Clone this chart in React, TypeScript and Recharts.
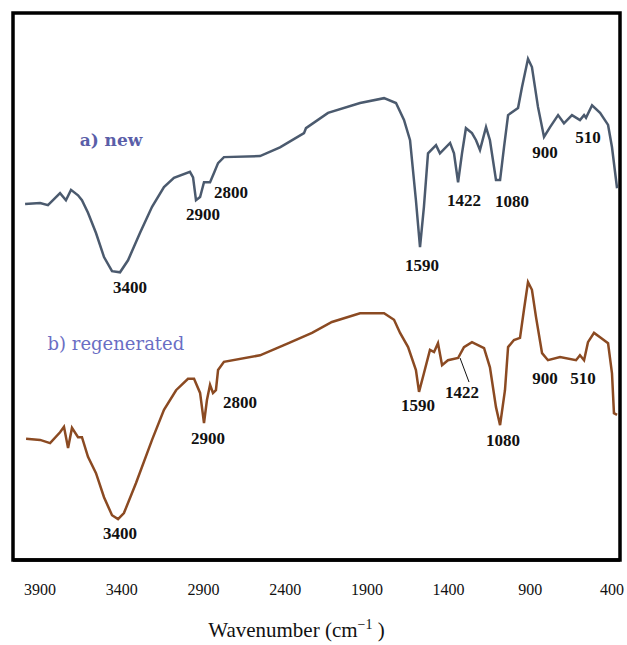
import React from 'react';
import { LineChart, Line, XAxis, YAxis, ReferenceDot, ReferenceLine, ReferenceArea, Label } from 'recharts';

// wavenumber (cm-1) and transmittance (a.u.)
const wavenumberA = [3992, 3900, 3852, 3778, 3742, 3711, 3668, 3644, 3607, 3558, 3509, 3460, 3411, 3362, 3289, 3215, 3142, 3081, 2983, 2964, 2946, 2921, 2897, 2860, 2836, 2811, 2775, 2554, 2432, 2285, 2273, 2138, 1942, 1795, 1722, 1673, 1636, 1600, 1575, 1551, 1526, 1477, 1453, 1391, 1367, 1342, 1318, 1294, 1257, 1232, 1208, 1171, 1147, 1110, 1085, 1061, 1036, 975, 951, 914, 890, 853, 816, 779, 730, 694, 645, 596, 571, 559, 522, 473, 424, 400, 369];
const transA = [65.2, 65.4, 65.0, 67.2, 65.9, 67.8, 66.8, 65.9, 63.6, 59.9, 55.5, 52.9, 52.7, 54.9, 59.9, 64.7, 68.3, 70.0, 71.1, 70.1, 65.9, 66.5, 69.2, 69.2, 70.9, 72.7, 73.8, 74.0, 75.6, 78.2, 79.1, 81.9, 83.7, 84.6, 83.7, 80.6, 76.9, 65.9, 57.3, 64.7, 74.5, 76.0, 74.5, 76.4, 74.5, 69.2, 74.5, 79.1, 78.2, 76.9, 75.1, 79.3, 76.9, 69.6, 69.6, 75.6, 81.5, 82.8, 86.6, 91.8, 90.3, 83.0, 77.5, 79.3, 81.5, 80.0, 81.5, 80.6, 81.5, 81.0, 83.3, 81.9, 79.7, 75.6, 68.1];

const wavenumberB = [3986, 3900, 3839, 3778, 3754, 3729, 3705, 3668, 3644, 3607, 3558, 3509, 3460, 3423, 3387, 3313, 3215, 3142, 3068, 2995, 2958, 2921, 2897, 2879, 2860, 2842, 2824, 2811, 2775, 2554, 2383, 2236, 2114, 1942, 1795, 1734, 1697, 1648, 1600, 1581, 1551, 1514, 1489, 1465, 1440, 1404, 1342, 1306, 1257, 1183, 1147, 1110, 1085, 1055, 1036, 1000, 963, 939, 914, 890, 865, 828, 792, 718, 620, 596, 571, 547, 510, 473, 424, 400, 388, 369];
const transB = [22.2, 22.0, 21.4, 23.4, 24.4, 20.5, 24.2, 22.5, 22.5, 18.9, 15.9, 11.5, 8.2, 7.5, 8.6, 14.1, 22.0, 27.5, 31.1, 33.2, 33.2, 30.6, 25.1, 29.3, 32.1, 30.6, 31.1, 34.8, 36.3, 37.5, 39.7, 41.6, 43.6, 45.2, 45.2, 44.0, 41.6, 39.0, 34.8, 30.8, 34.2, 38.5, 38.1, 39.7, 35.7, 36.6, 37.0, 39.0, 39.9, 38.8, 35.3, 28.0, 24.7, 31.1, 39.0, 40.3, 40.7, 45.8, 50.9, 49.5, 44.5, 37.9, 36.6, 37.2, 36.6, 37.5, 36.6, 39.9, 41.6, 40.8, 39.7, 34.2, 26.9, 26.6];

const xTicks = [3900, 3400, 2900, 2400, 1900, 1400, 900, 400];

// peak annotations (anchor in data units)
const peakLabelsA = [
  { w: 3350, t: 50.0, text: '3400' },
  { w: 2903, t: 63.4, text: '2900' },
  { w: 2732, t: 67.4, text: '2800' },
  { w: 1563, t: 54.0, text: '1590' },
  { w: 1306, t: 65.9, text: '1422' },
  { w: 1012, t: 65.8, text: '1080' },
  { w: 810, t: 74.7, text: '900' },
  { w: 547, t: 77.5, text: '510' },
];
const peakLabelsB = [
  { w: 3411, t: 4.9, text: '3400' },
  { w: 2872, t: 22.3, text: '2900' },
  { w: 2677, t: 28.9, text: '2800' },
  { w: 1587, t: 28.4, text: '1590' },
  { w: 1318, t: 30.8, text: '1422' },
  { w: 1067, t: 22.0, text: '1080' },
  { w: 810, t: 33.3, text: '900' },
  { w: 577, t: 33.3, text: '510' },
];
const leader1422 = [{ x: 1330, y: 37.0 }, { x: 1275, y: 32.6 }];

const dataA = wavenumberA.map((w, i) => ({ w, t: transA[i] }));
const dataB = wavenumberB.map((w, i) => ({ w, t: transB[i] }));

const X_DOMAIN: [number, number] = [351, 4066];
const Y_DOMAIN: [number, number] = [0, 100.2];
const SERIF = "'Liberation Serif', 'Times New Roman', Times, serif";

const renderTitle = (props: any) => {
  const { viewBox } = props;
  const cx = viewBox.x + viewBox.width / 2 - 20;
  const y = viewBox.y + 77;
  return (
    <text x={cx} y={y} textAnchor="middle" fontFamily={SERIF} fontSize={21} fill="#111">
      Wavenumber (cm
      <tspan fontSize={14} dy={-8}>−1</tspan>
      <tspan dy={8}> )</tspan>
    </text>
  );
};

const peakLabel = (text: string) => ({
  value: text,
  position: 'center' as const,
  fill: '#111',
  fontSize: 17,
  fontWeight: 'bold',
  fontFamily: SERIF,
});

const App: React.FC = () => {
  return (
    <div style={{ position: 'absolute', left: 0, top: 0, fontFamily: SERIF }}>
      <LineChart width={627} height={645} margin={{ top: 13, right: 7, left: 13, bottom: 0 }} style={{ fontFamily: SERIF }}>
        <XAxis
          type="number"
          dataKey="w"
          domain={X_DOMAIN}
          reversed
          allowDataOverflow
          ticks={xTicks}
          interval={0}
          tickLine={false}
          tickSize={8}
          tickMargin={16}
          height={85}
          axisLine={{ stroke: '#000', strokeWidth: 3.5 }}
          tick={{ fill: '#111', fontSize: 16, fontFamily: SERIF }}
          label={<Label content={renderTitle} />}
        />
        <YAxis type="number" domain={Y_DOMAIN} allowDataOverflow hide />

        {/* plot frame */}
        <ReferenceArea
          x1={X_DOMAIN[0]}
          x2={X_DOMAIN[1]}
          y1={Y_DOMAIN[0]}
          y2={Y_DOMAIN[1]}
          fill="none"
          stroke="#000"
          strokeWidth={3.5}
          ifOverflow="visible"
        />

        <Line data={dataA} dataKey="t" type="linear" dot={false} stroke="#4b5a6e" strokeWidth={2.5} isAnimationActive={false} />
        <Line data={dataB} dataKey="t" type="linear" dot={false} stroke="#8b4a22" strokeWidth={2.5} isAnimationActive={false} />

        {peakLabelsA.map((p) => (
          <ReferenceDot key={'a' + p.text} x={p.w} y={p.t} r={0} fill="none" stroke="none" label={peakLabel(p.text)} />
        ))}
        {peakLabelsB.map((p) => (
          <ReferenceDot key={'b' + p.text} x={p.w} y={p.t} r={0} fill="none" stroke="none" label={peakLabel(p.text)} />
        ))}
        <ReferenceLine segment={leader1422} stroke="#111" strokeWidth={1} />

        <ReferenceDot
          x={3466}
          y={76.9}
          r={0}
          fill="none"
          stroke="none"
          label={{ value: 'a) new', position: 'center', fill: '#5a5ea8', fontSize: 17, fontWeight: 'bold', fontFamily: 'DejaVu Serif' }}
        />
        <ReferenceDot
          x={3436}
          y={39.7}
          r={0}
          fill="none"
          stroke="none"
          label={{ value: 'b) regenerated', position: 'center', fill: '#6a6ec4', fontSize: 18, fontFamily: 'DejaVu Serif' }}
        />
      </LineChart>
    </div>
  );
};

export default App;
